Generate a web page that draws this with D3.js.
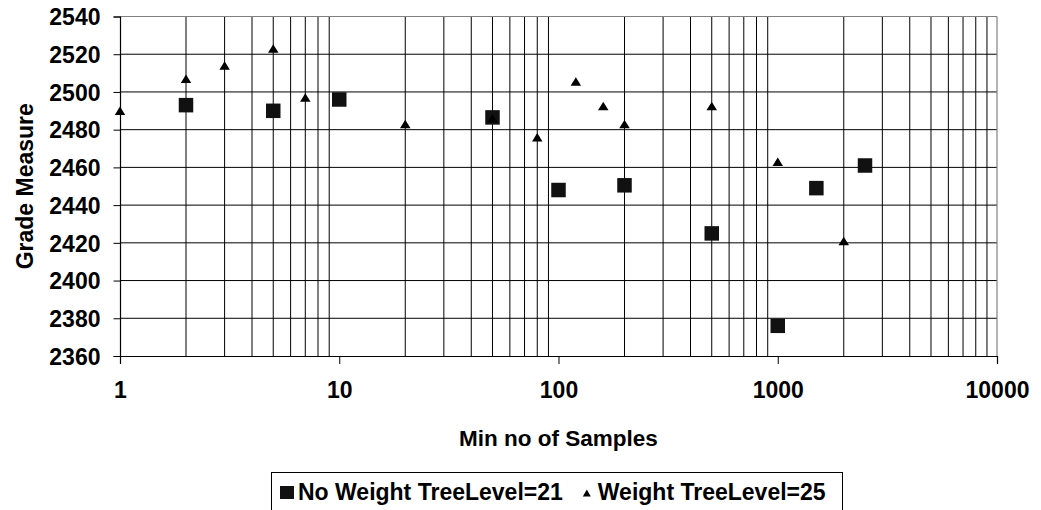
<!DOCTYPE html>
<html>
<head>
<meta charset="utf-8">
<script src="https://cdn.jsdelivr.net/npm/d3@7"></script>
<style>
  html, body { margin: 0; padding: 0; background: #fff; }
  svg text { font-family: "Liberation Sans", Arial, sans-serif; font-weight: bold; fill: #000; }
</style>
</head>
<body>
<svg id="chart" width="1041" height="510"></svg>
<script>
// Series: minimum number of samples vs. grade measure
const noWeightX = [2, 5, 10, 50, 100, 200, 500, 1000, 1500, 2500];
const noWeightY = [2493, 2490, 2496, 2486.5, 2448, 2450.5, 2425, 2376, 2449, 2461];
const weightX = [1, 2, 3, 5, 7, 20, 50, 80, 120, 160, 200, 500, 1000, 2000];
const weightY = [2490, 2507, 2514, 2523, 2497, 2483, 2486, 2476, 2505.5, 2492.5, 2483, 2492.5, 2463, 2421];
const seriesNames = ["No Weight TreeLevel=21", "Weight TreeLevel=25"];
const xTickValues = [1, 10, 100, 1000, 10000];
const yTickValues = [2360, 2380, 2400, 2420, 2440, 2460, 2480, 2500, 2520, 2540];
const xTitle = "Min no of Samples";
const yTitle = "Grade Measure";

const svg = d3.select("#chart");
const plot = { left: 120, right: 997, top: 16.5, bottom: 356 };

const x = d3.scaleLog().domain([1, 10000]).range([plot.left, plot.right]);
const y = d3.scaleLinear().domain([2360, 2540]).range([plot.bottom, plot.top]);

// Minor gridlines at every 1..9 step within each decade
const minorX = [];
for (let d = 1; d < 10000; d *= 10) for (let k = 2; k <= 9; k++) minorX.push(d * k);

const grid = svg.append("g");
grid.selectAll("line.v").data(minorX).join("line")
  .attr("x1", d => x(d)).attr("x2", d => x(d))
  .attr("y1", plot.top).attr("y2", plot.bottom)
  .attr("stroke", "#000").attr("stroke-width", 1);
grid.selectAll("line.h").data(yTickValues.slice(1, -1)).join("line")
  .attr("x1", plot.left).attr("x2", plot.right)
  .attr("y1", d => y(d)).attr("y2", d => y(d))
  .attr("stroke", "#000").attr("stroke-width", 1);

// Plot frame: grey top/right, black axes
svg.append("line").attr("x1", plot.left).attr("x2", plot.right).attr("y1", plot.top).attr("y2", plot.top)
  .attr("stroke", "#808080").attr("stroke-width", 1.2);
svg.append("line").attr("x1", plot.right).attr("x2", plot.right).attr("y1", plot.top).attr("y2", plot.bottom)
  .attr("stroke", "#808080").attr("stroke-width", 1.2);

// Axes
const yAxis = d3.axisLeft(y).tickValues(yTickValues).tickSize(6.5).tickPadding(13).tickFormat(d3.format("d"));
const gy = svg.append("g").attr("transform", `translate(${plot.left},0)`).call(yAxis);
gy.attr("font-family", null);
gy.select(".domain").attr("stroke", "#000").attr("stroke-width", 1.2);
gy.selectAll(".tick line").attr("stroke", "#000");
gy.selectAll(".tick text").attr("font-size", 23).attr("dy", "0.36em");

const xAxis = d3.axisBottom(x).tickValues(xTickValues).tickSize(8).tickPadding(18).tickFormat(d3.format("d"));
const gx = svg.append("g").attr("transform", `translate(0,${plot.bottom})`).call(xAxis);
gx.attr("font-family", null);
gx.select(".domain").attr("stroke", "#000").attr("stroke-width", 1.2);
gx.selectAll(".tick line").attr("stroke", "#000");
gx.selectAll(".tick text").attr("font-size", 23).attr("dy", "0.71em");

// Axis titles
svg.append("text").attr("x", (plot.left + plot.right) / 2).attr("y", 446)
  .attr("text-anchor", "middle").attr("font-size", 22.5).text(xTitle);
svg.append("text").attr("transform", `translate(33,${(plot.top + plot.bottom) / 2}) rotate(-90)`)
  .attr("text-anchor", "middle").attr("font-size", 23).text(yTitle);

// Markers
const sq = 14.5;
const pts = svg.append("g");
pts.selectAll("rect").data(d3.zip(noWeightX, noWeightY)).join("rect")
  .attr("x", d => x(d[0]) - sq / 2).attr("y", d => y(d[1]) - sq / 2)
  .attr("width", sq).attr("height", sq).attr("fill", "#111");

const triW = 10.5, triH = 8.5;
const tri = (cx, cy, w, h) => `M${cx},${cy - h / 2}L${cx + w / 2},${cy + h / 2}L${cx - w / 2},${cy + h / 2}Z`;
pts.selectAll("path").data(d3.zip(weightX, weightY)).join("path")
  .attr("d", d => tri(x(d[0]), y(d[1]), triW, triH)).attr("fill", "#000");

// Legend
const lg = svg.append("g");
lg.append("rect").attr("x", 271.5).attr("y", 472.5).attr("width", 571).attr("height", 40)
  .attr("fill", "#fff").attr("stroke", "#000").attr("stroke-width", 1);
lg.append("rect").attr("x", 280).attr("y", 486).attr("width", 14).attr("height", 13).attr("fill", "#111");
const t1 = lg.append("text").attr("x", 298).attr("y", 500).attr("font-size", 23).text(seriesNames[0]);
const end1 = 298 + t1.node().getComputedTextLength();
lg.append("path").attr("d", tri(end1 + 24, 493, 8, 7)).attr("fill", "#000");
lg.append("text").attr("x", end1 + 35).attr("y", 500).attr("font-size", 23).text(seriesNames[1]);
</script>
</body>
</html>
